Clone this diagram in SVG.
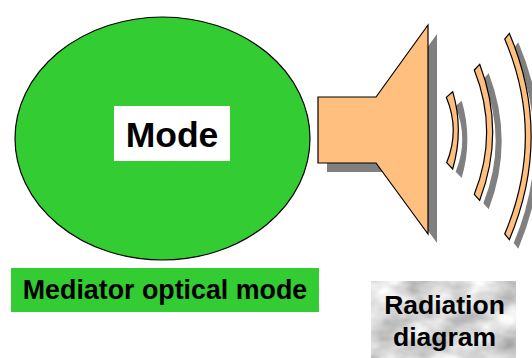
<svg xmlns="http://www.w3.org/2000/svg" width="532" height="358" viewBox="0 0 532 358">
<defs>
<style>
.s{fill:#808080}
.h{fill:#ffbf7f;stroke:#000;stroke-width:1.2;stroke-linejoin:miter}
text{font-family:"Liberation Sans",Arial,sans-serif;font-weight:bold;fill:#000;text-anchor:middle}
</style>
<filter id="tex" x="0" y="0" width="100%" height="100%" color-interpolation-filters="sRGB">
<feTurbulence type="fractalNoise" baseFrequency="0.03 0.045" numOctaves="3" seed="7"/>
<feColorMatrix type="matrix" values="0.5 0 0 0 0.6 0.5 0 0 0 0.6 0.5 0 0 0 0.6 0 0 0 0 1"/>
</filter>
<path id="a1" d="M452.7 91.7L446.3 97.3Q460 130 446.7 162.7L452.7 169Q464 130 452.7 91.7Z"/>
<path id="a2" d="M479.7 64.3L474.3 70Q499 132 474.3 194.3L479.7 200.3Q505.7 132 479.7 64.3Z"/>
<path id="a3" d="M509.3 33.3L504.7 39Q546 136 504.7 234L509.3 239.7Q553 136 509.3 33.3Z"/>
<path id="horn" d="M318 97H376L428 25V234L376 163H318Z"/>
</defs>
<rect width="532" height="358" fill="#fff"/>
<g id="mode-node">
<ellipse cx="162.5" cy="138.5" rx="147.5" ry="121.5" fill="#33cc33" stroke="#000" stroke-width="1.2"/>
<rect x="114" y="106" width="116" height="55" fill="#fff"/>
<text x="172" y="147" font-size="35.5">Mode</text>
</g>
<g id="mediator-label">
<rect x="11" y="268" width="308" height="44" fill="#33cc33"/>
<text x="165" y="299" font-size="26.8">Mediator optical mode</text>
</g>
<g id="horn-node">
<use href="#horn" class="s" transform="translate(9 9)"/>
<use href="#horn" class="h"/>
</g>
<g id="waves">
<use href="#a1" class="s" transform="translate(9 9)"/>
<use href="#a2" class="s" transform="translate(9 9)"/>
<use href="#a3" class="s" transform="translate(9 9)"/>
<use href="#a1" class="h"/>
<use href="#a2" class="h"/>
<use href="#a3" class="h"/>
</g>
<g id="radiation-label">
<rect x="371" y="281" width="145" height="77" fill="#ccc" filter="url(#tex)"/>
<text x="444.5" y="314" font-size="26.5">Radiation</text>
<text x="444.5" y="346" font-size="26.5">diagram</text>
</g>
</svg>
